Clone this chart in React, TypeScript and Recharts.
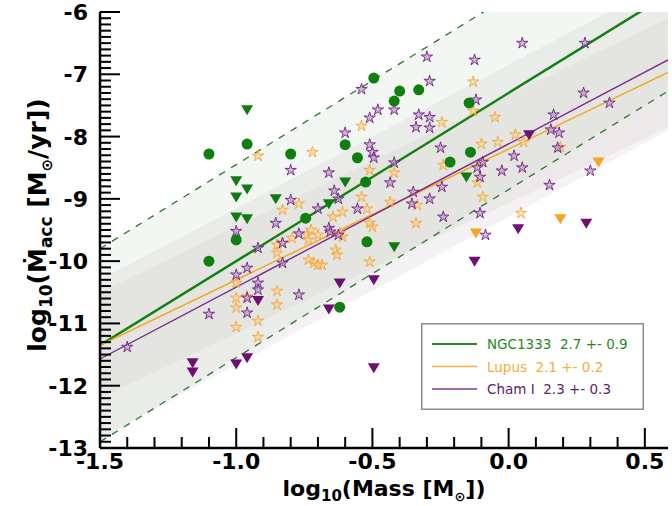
import React from 'react';
import { ComposedChart, XAxis, YAxis, Scatter, Line, Area, Legend } from 'recharts';

const FONT = 'DejaVu Sans';

// fit lines read at the two edges of the x range
const fitX = [-1.5, 0.585];
const ngcFit = [-11.35, -5.72];
const lupusFit = [-11.35, -6.97];
const chamFit = [-11.57, -6.77];
const ngcUpper = [-9.8, -4.17];
const ngcLower = [-12.9, -7.27];
const lupusLo = [-12.2, -7.85];
const lupusHi = [-10.5, -6.1];
const chamLo = [-12.85, -7.9];
const chamHi = [-10.3, -5.5];

const xMajor = [-1.5, -1.0, -0.5, 0.0, 0.5];
const xLabels = ['-1.5', '-1.0', '-0.5', '0.0', '0.5'];
const yMajor = [-13, -12, -11, -10, -9, -8, -7, -6];
const yLabels = ['-13', '-12', '-11', '-10', '-9', '-8', '-7', '-6'];

// NGC1333 detections / upper limits
const ngcDet: [number, number][] = [
  [-1.1, -8.28], [-0.96, -8.12], [-0.8, -8.28], [-0.6, -8.13], [-0.555, -8.34], [-0.525, -8.73],
  [-0.495, -7.06], [-0.4, -7.27], [-0.33, -7.25], [-0.42, -7.43], [-0.145, -7.46], [-0.14, -8.25],
  [-0.215, -8.41], [-0.745, -9.31], [-1.0, -9.66], [-1.1, -10.0], [-0.52, -9.69], [-0.62, -10.74],
];
const ngcLim: [number, number][] = [
  [-0.96, -7.57], [-1.0, -8.71], [-0.96, -8.84], [-1.0, -8.97], [-0.855, -9.0], [-0.6, -8.73],
  [-0.66, -9.08], [-1.0, -9.29], [-0.96, -9.32], [-0.155, -8.65], [-0.42, -9.77],
];

// Lupus
const lupusDet: [number, number][] = [
  [-0.92, -8.31], [-0.72, -8.25], [-0.54, -7.83], [-0.51, -8.54], [-0.83, -9.18], [-0.77, -9.08],
  [-0.52, -9.16], [-0.54, -8.97], [-0.13, -7.12], [-0.13, -7.59], [-0.245, -7.77], [-0.05, -7.69],
  [-0.1, -8.12], [-0.04, -8.09], [0.025, -7.97], [0.055, -8.09], [0.19, -8.17], [-0.42, -8.58],
  [-0.24, -8.46], [-0.115, -8.74], [-0.095, -8.97], [-0.335, -9.1], [0.045, -9.23], [-0.34, -9.39],
  [-0.61, -9.21], [-0.645, -9.29], [-0.435, -9.05], [-0.5, -9.45], [-0.61, -9.61], [-0.635, -9.82],
  [-0.63, -9.9], [-0.51, -10.01], [-0.685, -10.06], [-0.85, -9.74], [-0.85, -9.87], [-0.83, -9.71],
  [-0.795, -9.63], [-0.74, -9.58], [-0.735, -9.98], [-0.715, -10.03], [-0.7, -10.06], [-1.0, -10.35],
  [-0.85, -10.48], [-1.0, -10.59], [-0.96, -10.57], [-0.85, -10.7], [-1.0, -10.75], [-0.92, -10.96],
  [-1.0, -11.06], [-0.92, -11.22], [-0.725, -9.5], [-0.7, -9.58], [-0.735, -9.66], [-0.62, -9.55],
  [-0.51, -9.39],
];
const lupusLim: [number, number][] = [[-0.12, -9.55], [0.19, -9.32], [0.33, -8.41]];

// Cham I
const chamDet: [number, number][] = [
  [-0.54, -7.24], [-0.48, -7.57], [-0.51, -7.7], [-0.6, -7.94], [-0.8, -8.54], [-0.66, -8.58],
  [-0.51, -8.13], [-0.5, -8.25], [-0.495, -8.34], [-0.64, -8.87], [-0.625, -9.0], [-0.8, -9.02],
  [-0.7, -9.16], [-0.555, -9.16], [-0.855, -9.39], [0.05, -6.5], [0.28, -6.5], [-0.3, -6.72],
  [-0.125, -6.77], [-0.29, -7.11], [-0.42, -7.57], [-0.12, -7.41], [0.275, -7.3], [0.37, -7.46],
  [-0.33, -7.65], [-0.29, -7.69], [-0.34, -7.85], [-0.29, -7.86], [0.165, -7.65], [-0.25, -8.18],
  [0.155, -7.89], [0.185, -7.94], [0.18, -8.18], [0.02, -8.31], [-0.42, -8.42], [-0.095, -8.41],
  [-0.115, -8.5], [-0.105, -8.65], [-0.025, -8.55], [0.05, -8.5], [0.3, -8.55], [-0.435, -8.74],
  [-0.245, -8.81], [0.15, -8.78], [-0.35, -8.89], [-0.29, -9.0], [-0.355, -9.08], [-0.24, -9.29],
  [-0.105, -9.23], [-0.085, -9.58], [-0.66, -9.47], [-0.625, -9.58], [-0.77, -9.56], [-1.0, -9.52],
  [-0.92, -9.79], [-0.83, -9.71], [-0.655, -9.53], [-0.83, -10.03], [-0.96, -10.11], [-1.0, -10.22],
  [-0.92, -10.35], [-0.92, -10.46], [-0.77, -10.54], [-0.96, -10.59], [-0.96, -10.83], [-1.1, -10.85],
  [-1.4, -11.38],
];
const chamLim: [number, number][] = [
  [0.075, -7.97], [0.035, -9.48], [0.285, -9.39], [-0.125, -10.0], [-0.92, -10.63], [-0.62, -10.35],
  [-0.495, -10.3], [-0.66, -10.77], [-1.16, -11.63], [-1.16, -11.78], [-1.0, -11.65], [-0.96, -11.55],
  [-0.495, -11.71],
];

const legendItems = [
  { label: 'NGC1333  2.7 +- 0.9', line: '#2b8a2b', text: '#1f8a1f', width: 2 },
  { label: 'Lupus  2.1 +- 0.2', line: '#f6b23a', text: '#f2ae3a', width: 1.5 },
  { label: 'Cham I  2.3 +- 0.3', line: '#7a3a8c', text: '#5c2270', width: 1.5 },
];

const fitTable = fitX.map((x, i) => ({
  x,
  ngc: ngcFit[i],
  lupus: lupusFit[i],
  cham: chamFit[i],
  ngcUp: ngcUpper[i],
  ngcLow: ngcLower[i],
  ngcBand: [ngcLower[i], ngcUpper[i]],
  lupusBand: [lupusLo[i], lupusHi[i]],
  chamBand: [chamLo[i], chamHi[i]],
}));

const toPts = (arr: [number, number][]) => arr.map(([x, y]) => ({ x, y }));

// minor ticks every 0.1
const xTicks: number[] = [];
for (let i = 0; i <= 20; i++) xTicks.push(Math.round((-1.5 + i * 0.1) * 10) / 10);
const yTicks: number[] = [];
for (let i = 0; i <= 70; i++) yTicks.push(Math.round((-13 + i * 0.1) * 10) / 10);

const isMajor = (v: number, majors: number[]) => majors.some((m) => Math.abs(m - v) < 1e-6);
const labelOf = (v: number, majors: number[], labels: string[]) =>
  labels[majors.findIndex((m) => Math.abs(m - v) < 1e-6)];

const MAJ = 20;
const MIN = 11;
const axisLine = { stroke: '#000', strokeWidth: 2.5 };

const BottomTick = (p: any) => {
  const v = p.payload.value;
  const major = isMajor(v, xMajor);
  return (
    <g>
      <line x1={p.x} x2={p.x} y1={p.y} y2={p.y - (major ? MAJ : MIN)} stroke="#000" strokeWidth={2} />
      {major && (
        <text x={p.x} y={p.y + 21} textAnchor="middle" fontFamily={FONT} fontWeight="bold" fontSize={22} fill="#000">
          {labelOf(v, xMajor, xLabels)}
        </text>
      )}
    </g>
  );
};

const TopTick = (p: any) => {
  const major = isMajor(p.payload.value, xMajor);
  return <line x1={p.x} x2={p.x} y1={p.y} y2={p.y + (major ? MAJ : MIN)} stroke="#000" strokeWidth={2} />;
};

const LeftTick = (p: any) => {
  const v = p.payload.value;
  const major = isMajor(v, yMajor);
  return (
    <g>
      <line x1={p.x} x2={p.x + (major ? MAJ : MIN)} y1={p.y} y2={p.y} stroke="#000" strokeWidth={2} />
      {major && (
        <text x={p.x - 12} y={p.y + 8} textAnchor="end" fontFamily={FONT} fontWeight="bold" fontSize={22} fill="#000">
          {labelOf(v, yMajor, yLabels)}
        </text>
      )}
    </g>
  );
};

const RightTick = (p: any) => {
  const major = isMajor(p.payload.value, yMajor);
  return <line x1={p.x} x2={p.x - (major ? MAJ : MIN)} y1={p.y} y2={p.y} stroke="#000" strokeWidth={2} />;
};

const XTitle = (props: any) => {
  const vb = props.viewBox;
  const cx = vb.x + vb.width / 2;
  const y = vb.y + 48;
  return (
    <text x={cx} y={y} textAnchor="middle" fontFamily={FONT} fontWeight="bold" fontSize={22} fill="#000">
      log<tspan dy={5} fontSize={15}>10</tspan>
      <tspan dy={-5}>(Mass [M</tspan>
      <tspan dy={5} fontSize={13}>⊙</tspan>
      <tspan dy={-5}>])</tspan>
    </text>
  );
};

const YTitle = (props: any) => {
  const vb = props.viewBox;
  const cx = 46;
  const cy = vb.y + vb.height / 2 - 5;
  return (
    <text
      x={cx}
      y={cy}
      transform={`rotate(-90, ${cx}, ${cy})`}
      textAnchor="middle"
      fontFamily={FONT}
      fontWeight="bold"
      fontSize={25}
      fill="#000"
    >
      log<tspan dy={6} fontSize={17}>10</tspan>
      <tspan dy={-6}>(Ṁ</tspan>
      <tspan dy={6} fontSize={17}>acc</tspan>
      <tspan dy={-6}> [M</tspan>
      <tspan dy={6} fontSize={15}>⊙</tspan>
      <tspan dy={-6}>/yr])</tspan>
    </text>
  );
};

const starPath = (cx: number, cy: number, R: number, r: number) => {
  let d = '';
  for (let i = 0; i < 10; i++) {
    const a = -Math.PI / 2 + (i * Math.PI) / 5;
    const rad = i % 2 === 0 ? R : r;
    d += (i === 0 ? 'M' : 'L') + (cx + rad * Math.cos(a)).toFixed(2) + ',' + (cy + rad * Math.sin(a)).toFixed(2);
  }
  return d + 'Z';
};

const makeStar = (fill: string, stroke: string) => (p: any) =>
  <path d={starPath(p.cx, p.cy, 6, 2.1)} fill={fill} fillOpacity={0.6} stroke={stroke} strokeWidth={0.9} />;

const makeTri = (fill: string) => (p: any) =>
  <path d={`M${p.cx - 6},${p.cy - 4.5}L${p.cx + 6},${p.cy - 4.5}L${p.cx},${p.cy + 5.5}Z`} fill={fill} />;

const GreenDot = (p: any) => <circle cx={p.cx} cy={p.cy} r={5.5} fill="#0f7f0f" />;

const LegendBox = () => (
  <svg width={223} height={87}>
    <rect x={0.75} y={0.75} width={221.5} height={85.5} fill="#fff" stroke="#8c8c8c" strokeWidth={1.5} />
    {legendItems.map((it, i) => {
      const y = 21 + i * 22.5;
      return (
        <g key={it.label}>
          <line x1={11} x2={56} y1={y} y2={y} stroke={it.line} strokeWidth={it.width} />
          <text x={66} y={y + 5} fontFamily={FONT} fontSize={13.5} fill={it.text} style={{ whiteSpace: 'pre' }}>
            {it.label}
          </text>
        </g>
      );
    })}
  </svg>
);

export default function App() {
  return (
    <div style={{ width: 672, height: 506, background: '#fff' }}>
      <style>{'body{margin:0}'}</style>
      <ComposedChart width={672} height={506} data={fitTable} margin={{ top: 12, right: 4, bottom: 0, left: 0 }}>
        <XAxis
          dataKey="x"
          type="number"
          domain={[-1.5, 0.585]}
          ticks={xTicks}
          interval={0}
          allowDataOverflow
          height={58}
          tickSize={0}
          tickMargin={0}
          tickLine={false}
          tick={BottomTick}
          axisLine={axisLine}
          label={{ content: XTitle }}
        />
        <XAxis
          xAxisId="top"
          orientation="top"
          type="number"
          domain={[-1.5, 0.585]}
          ticks={xTicks}
          interval={0}
          allowDataOverflow
          height={0}
          tickSize={0}
          tickMargin={0}
          tickLine={false}
          tick={TopTick}
          axisLine={axisLine}
        />
        <YAxis
          dataKey="y"
          type="number"
          domain={[-13, -6]}
          ticks={yTicks}
          interval={0}
          allowDataOverflow
          width={100}
          tickSize={0}
          tickMargin={0}
          tickLine={false}
          tick={LeftTick}
          axisLine={axisLine}
          label={{ content: YTitle }}
        />
        <YAxis
          yAxisId="right"
          orientation="right"
          type="number"
          domain={[-13, -6]}
          ticks={yTicks}
          interval={0}
          allowDataOverflow
          width={0}
          tickSize={0}
          tickMargin={0}
          tickLine={false}
          tick={RightTick}
          axisLine={axisLine}
        />

        <Area dataKey="chamBand" type="linear" stroke="none" fill="#cbbccd" fillOpacity={0.2} dot={false} activeDot={false} isAnimationActive={false} />
        <Area dataKey="lupusBand" type="linear" stroke="none" fill="#cfc6b4" fillOpacity={0.2} dot={false} activeDot={false} isAnimationActive={false} />
        <Area dataKey="ngcBand" type="linear" stroke="none" fill="#b9cdb5" fillOpacity={0.17} dot={false} activeDot={false} isAnimationActive={false} />

        <Line dataKey="ngcUp" type="linear" stroke="#2a7a2a" strokeWidth={1.3} strokeDasharray="7 7" dot={false} activeDot={false} isAnimationActive={false} />
        <Line dataKey="ngcLow" type="linear" stroke="#2a7a2a" strokeWidth={1.3} strokeDasharray="7 7" dot={false} activeDot={false} isAnimationActive={false} />
        <Line dataKey="ngc" type="linear" stroke="#148014" strokeWidth={2.5} dot={false} activeDot={false} isAnimationActive={false} />
        <Line dataKey="lupus" type="linear" stroke="#f5a623" strokeWidth={1.5} dot={false} activeDot={false} isAnimationActive={false} />
        <Line dataKey="cham" type="linear" stroke="#7b2b8b" strokeWidth={1.4} dot={false} activeDot={false} isAnimationActive={false} />

        <Scatter data={toPts(lupusDet)} shape={makeStar('#fcd08c', '#f4a63a')} isAnimationActive={false} />
        <Scatter data={toPts(lupusLim)} shape={makeTri('#f5a623')} isAnimationActive={false} />
        <Scatter data={toPts(chamDet)} shape={makeStar('#b98ac8', '#6e2380')} isAnimationActive={false} />
        <Scatter data={toPts(chamLim)} shape={makeTri('#6e0f72')} isAnimationActive={false} />
        <Scatter data={toPts(ngcDet)} shape={GreenDot} isAnimationActive={false} />
        <Scatter data={toPts(ngcLim)} shape={makeTri('#137a13')} isAnimationActive={false} />

        <Legend
          layout="vertical"
          align="center"
          verticalAlign="middle"
          content={LegendBox}
          wrapperStyle={{ left: 421, top: 323, width: 223, height: 87 }}
        />
      </ComposedChart>
    </div>
  );
}
